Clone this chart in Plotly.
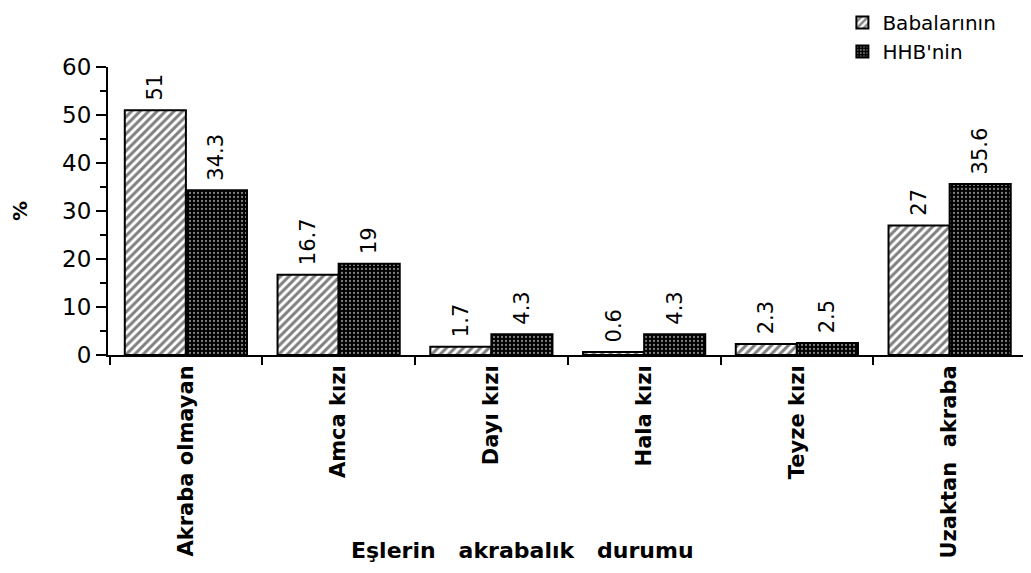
import plotly.graph_objects as go

categories = ["Akraba olmayan", "Amca kızı", "Dayı kızı", "Hala kızı", "Teyze kızı", "Uzaktan  akraba"]
babalarinin = [51, 16.7, 1.7, 0.6, 2.3, 27]
hhb = [34.3, 19, 4.3, 4.3, 2.5, 35.6]
bab_labels = ["51", "16.7", "1.7", "0.6", "2.3", "27"]
hhb_labels = ["34.3", "19", "4.3", "4.3", "2.5", "35.6"]

font_family = "DejaVu Sans, Verdana, sans-serif"
pad = "\u00a0"

fig = go.Figure()
fig.add_trace(go.Bar(
    name="Babalarının", x=categories, y=babalarinin,
    text=[pad + t for t in bab_labels], textposition="outside", textangle=-90,
    textfont=dict(size=21, color="black", family=font_family),
    cliponaxis=False,
    marker=dict(color="white", line=dict(color="black", width=2),
                pattern=dict(shape="/", fgcolor="black", bgcolor="white",
                             size=6, solidity=0.5)),
))
fig.add_trace(go.Bar(
    name="HHB'nin", x=categories, y=hhb,
    text=[pad + t for t in hhb_labels], textposition="outside", textangle=-90,
    textfont=dict(size=21, color="black", family=font_family),
    cliponaxis=False,
    marker=dict(color="black", line=dict(color="black", width=2),
                pattern=dict(shape=".", fgcolor="white", bgcolor="black",
                             size=4, solidity=0.25)),
))

fig.update_layout(
    width=1031, height=573,
    paper_bgcolor="white", plot_bgcolor="white",
    margin=dict(l=100, r=13, t=59, b=226, autoexpand=False),
    barmode="group", bargap=0.2, bargroupgap=0,
    font=dict(family=font_family, color="black"),
    legend=dict(x=0.80, y=1.222, xanchor="left", yanchor="top",
                font=dict(size=20, color="black", family=font_family),
                itemwidth=30, tracegroupgap=0, bgcolor="rgba(0,0,0,0)"),
    showlegend=True,
)
fig.update_xaxes(
    range=[-0.51, 5.5], showline=True, linecolor="black", linewidth=2,
    ticks="outside", tickson="boundaries", ticklen=8, tickwidth=2, tickcolor="black",
    tickangle=-90, tickfont=dict(size=21, color="black", family=font_family, weight="bold"),
    showgrid=False, zeroline=False, automargin=False,
)
fig.update_yaxes(
    range=[0, 60], dtick=10, showline=True, linecolor="black", linewidth=2,
    ticks="outside", ticklen=10, tickwidth=2, tickcolor="black",
    minor=dict(dtick=5, ticks="outside", ticklen=6, tickwidth=2, tickcolor="black"),
    tickfont=dict(size=23, color="black", family=font_family),
    showgrid=False, zeroline=False, automargin=False,
    title=dict(text="<b>%</b>", font=dict(size=20, color="black", family=font_family), standoff=44),
)
fig.add_annotation(
    text="<b>Eşlerin   akrabalık   durumu</b>", xref="paper", yref="paper",
    x=0.451, y=-0.68, xanchor="center", yanchor="middle", showarrow=False,
    font=dict(size=22, color="black", family=font_family),
)
fig.write_html("out.html")
